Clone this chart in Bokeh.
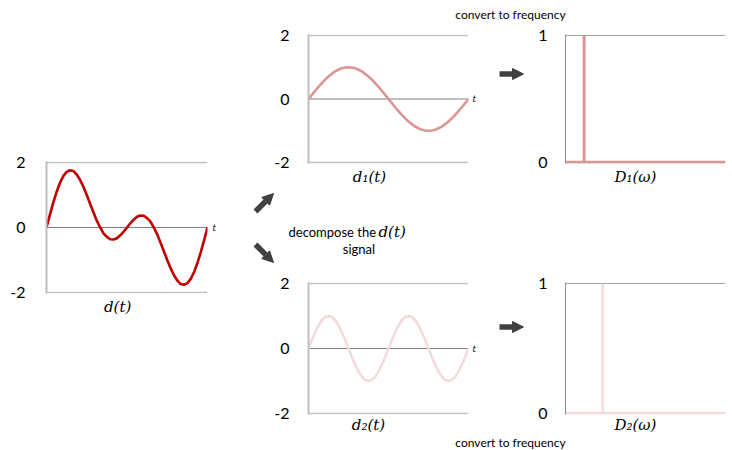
from bokeh.plotting import figure
from bokeh.layouts import row, column
from bokeh.models import (Label, Span, Arrow, NormalHead, FixedTicker, Range1d,
                          LinearAxis, CustomJSTickFormatter)
from bokeh.embed import file_html
from bokeh.resources import INLINE

# ---------------- data ----------------
t = [0, 1, 2, 3, 4, 5, 6, 7, 8, 9, 10, 11, 12, 13, 14, 15, 16, 17, 18, 19, 20,
     21, 22, 23, 24, 25, 26, 27, 28, 29, 30, 31, 32, 33, 34, 35, 36, 37, 38, 39,
     40, 41, 42, 43, 44, 45, 46, 47, 48]

d = [0, 0.39, 0.76, 1.09, 1.37, 1.58, 1.71, 1.76, 1.74, 1.63, 1.47, 1.25, 1.00,
     0.73, 0.47, 0.21, 0, -0.18, -0.29, -0.36, -0.37, -0.33, -0.24, -0.13, 0,
     0.13, 0.24, 0.33, 0.37, 0.36, 0.29, 0.18, 0, -0.21, -0.47, -0.73, -1.00,
     -1.25, -1.47, -1.63, -1.74, -1.76, -1.71, -1.58, -1.37, -1.09, -0.76, -0.39, 0]

d1 = [0, 0.13, 0.26, 0.38, 0.50, 0.61, 0.71, 0.79, 0.87, 0.92, 0.97, 0.99, 1.00,
      0.99, 0.97, 0.92, 0.87, 0.79, 0.71, 0.61, 0.50, 0.38, 0.26, 0.13, 0,
      -0.13, -0.26, -0.38, -0.50, -0.61, -0.71, -0.79, -0.87, -0.92, -0.97, -0.99, -1.00,
      -0.99, -0.97, -0.92, -0.87, -0.79, -0.71, -0.61, -0.50, -0.38, -0.26, -0.13, 0]

d2 = [0, 0.26, 0.50, 0.71, 0.87, 0.97, 1.00, 0.97, 0.87, 0.71, 0.50, 0.26, 0,
      -0.26, -0.50, -0.71, -0.87, -0.97, -1.00, -0.97, -0.87, -0.71, -0.50, -0.26, 0,
      0.26, 0.50, 0.71, 0.87, 0.97, 1.00, 0.97, 0.87, 0.71, 0.50, 0.26, 0,
      -0.26, -0.50, -0.71, -0.87, -0.97, -1.00, -0.97, -0.87, -0.71, -0.50, -0.26, 0]

omega1 = [0, 1, 1, 1, 8.6]
D1 = [0, 0, 1, 0, 0]
omega2 = [0, 2, 2, 2, 8.6]
D2 = [0, 0, 1, 0, 0]

time_ticks = [-2, 0, 2]
freq_ticks = [0, 1]

label_d = "d(t)"
label_d1 = "d\u2081(t)"
label_d2 = "d\u2082(t)"
label_D1 = "D\u2081(\u03c9)"
label_D2 = "D\u2082(\u03c9)"
label_t = "t"
text_convert = "convert to frequency"
text_decomp = "decompose the "
text_signal = "signal"

# ---------------- styles ----------------
RED = "#C00000"
PINK = "#DA9694"
LIGHT = "#F2DCDB"
GRID = "#BFBFBF"
DARK = "#404040"
SANS = "Lato"
MATH = "DejaVu Serif"

NUM_FMT = "return String(tick)"
TXT_FMT = "return lbl"


def no_ticks(ax):
    ax.major_tick_line_color = None
    ax.minor_tick_line_color = None
    ax.major_tick_out = 0
    ax.major_tick_in = 0
    ax.minor_tick_out = 0
    ax.minor_tick_in = 0
    ax.axis_label_standoff = 0


def base_fig(w, h, xr, yr, l, r, top, bottom, with_axis=True):
    p = figure(width=w, height=h, x_range=xr, y_range=yr,
               output_backend="svg", toolbar_location=None,
               x_axis_location="below" if with_axis else None,
               y_axis_location="left" if with_axis else None,
               min_border_left=l, min_border_right=r,
               min_border_top=top, min_border_bottom=bottom,
               outline_line_color=None)
    p.xgrid.visible = False
    return p


def style_yaxis(p, ticks, line_color, line_width, standoff):
    ax = p.yaxis[0]
    no_ticks(ax)
    ax.ticker = FixedTicker(ticks=ticks)
    ax.formatter = CustomJSTickFormatter(code=NUM_FMT)
    ax.axis_line_color = line_color
    ax.axis_line_width = line_width
    ax.major_label_standoff = standoff
    ax.major_label_text_font = SANS
    ax.major_label_text_font_size = "16px"
    ax.major_label_text_color = "#000000"


def name_xaxis(p, pos, label, standoff):
    ax = p.xaxis[0]
    no_ticks(ax)
    ax.ticker = FixedTicker(ticks=[pos])
    ax.formatter = CustomJSTickFormatter(args=dict(lbl=label), code=TXT_FMT)
    ax.axis_line_color = None
    ax.major_label_standoff = standoff
    ax.major_label_text_font = MATH
    ax.major_label_text_font_style = "italic"
    ax.major_label_text_font_size = "15px"
    ax.major_label_text_color = "#000000"


def t_axis(p, standoff):
    ax = LinearAxis(ticker=FixedTicker(ticks=[0]),
                    formatter=CustomJSTickFormatter(args=dict(lbl=label_t), code=TXT_FMT),
                    axis_line_color=None, major_label_standoff=standoff,
                    major_label_text_font=MATH, major_label_text_font_style="italic",
                    major_label_text_font_size="9px",
                    major_label_text_color="#000000")
    no_ticks(ax)
    p.add_layout(ax, "right")


def time_fig(w, h, l, r, top, bottom, y, color, zero_color, zero_width,
             label, label_pos, label_standoff, standoff, t_off):
    p = base_fig(w, h, Range1d(0, 48), Range1d(-2.03, 2.03), l, r, top, bottom)
    style_yaxis(p, time_ticks, GRID, 2, standoff)
    name_xaxis(p, label_pos, label, label_standoff)
    t_axis(p, t_off)
    p.ygrid.ticker = FixedTicker(ticks=[-2, 2])
    p.ygrid.grid_line_color = GRID
    p.ygrid.grid_line_width = 1.5
    p.add_layout(Span(location=0, dimension="width", line_color=zero_color,
                      line_width=zero_width, level="underlay"))
    p.line(t, y, line_color=color, line_width=2.6, line_join="round")
    return p


def freq_fig(w, h, l, r, top, bottom, om, amp, color, width, label, label_standoff):
    p = base_fig(w, h, Range1d(0, 8.6), Range1d(-0.01, 1.01), l, r, top, bottom)
    style_yaxis(p, freq_ticks, "#8C8C8C", 1, 18)
    name_xaxis(p, 3.76, label, label_standoff)
    p.ygrid.ticker = FixedTicker(ticks=[1])
    p.ygrid.grid_line_color = "#A6A6A6"
    p.ygrid.grid_line_width = 1
    p.line(om, amp, line_color=color, line_width=width, line_join="bevel")
    return p


def strip(w, h):
    p = base_fig(w, h, Range1d(0, w), Range1d(0, h), 0, 0, 0, 0, with_axis=False)
    p.ygrid.visible = False
    return p


def add_arrow(p, xs, ys, xe, ye):
    p.add_layout(Arrow(x_start=xs, y_start=ys, x_end=xe, y_end=ye,
                       start_units="screen", end_units="screen",
                       line_color=DARK, line_width=5.5,
                       end=NormalHead(size=11, fill_color=DARK, line_color=DARK, line_width=1)))


def convert_strip(w, h, y):
    p = strip(w, h)
    p.add_layout(Label(x=265, y=y, x_units="screen", y_units="screen",
                       text=text_convert, text_align="center", text_baseline="middle",
                       text_font=SANS, text_font_size="12px", text_color="#000000"))
    return p


# left: d(t)
figA = time_fig(245, 450, 46, 38, 161, 157, d, RED, "#808080", 1,
                label_d, 21.2, 4, 21, 5)

# top row
figTop = convert_strip(487, 24, 10.5)
figB1 = time_fig(240, 164, 63, 17, 10, 24, d1, PINK, GRID, 2,
                 label_d1, 18.3, 4, 19, 4)
figArr1 = strip(50, 164)
add_arrow(figArr1, 14, 89.5, 38, 89.5)
figC1 = freq_fig(197, 164, 30, 7, 8, 24, omega1, D1, PINK, 3, label_D1, 4)

# middle strip
figMid = strip(487, 84)
add_arrow(figMid, 10, 61, 28, 79)
add_arrow(figMid, 10, 28, 28, 10)
figMid.add_layout(Label(x=43, y=41, x_units="screen", y_units="screen",
                        text=text_decomp, text_align="left", text_baseline="alphabetic",
                        text_font=SANS, text_font_size="13px", text_color="#000000"))
figMid.add_layout(Label(x=133, y=41, x_units="screen", y_units="screen",
                        text=label_d, text_align="left", text_baseline="alphabetic",
                        text_font=MATH, text_font_style="italic",
                        text_font_size="15px", text_color="#000000"))
figMid.add_layout(Label(x=113.5, y=24, x_units="screen", y_units="screen",
                        text=text_signal, text_align="center", text_baseline="alphabetic",
                        text_font=SANS, text_font_size="13px", text_color="#000000"))

# bottom row
figB2 = time_fig(240, 164, 63, 17, 10, 22, d2, LIGHT, "#808080", 1,
                 label_d2, 18.0, 1, 19, 4)
figArr2 = strip(50, 164)
add_arrow(figArr2, 14, 87.5, 38, 87.5)
figC2 = freq_fig(197, 164, 30, 7, 10, 22, omega2, D2, LIGHT, 2.5, label_D2, 1)

figBot = convert_strip(487, 14, 8)

right = column(figTop, row(figB1, figArr1, figC1), figMid,
               row(figB2, figArr2, figC2), figBot)
layout = row(figA, right)

open("out.html", "w").write(file_html(layout, INLINE))
